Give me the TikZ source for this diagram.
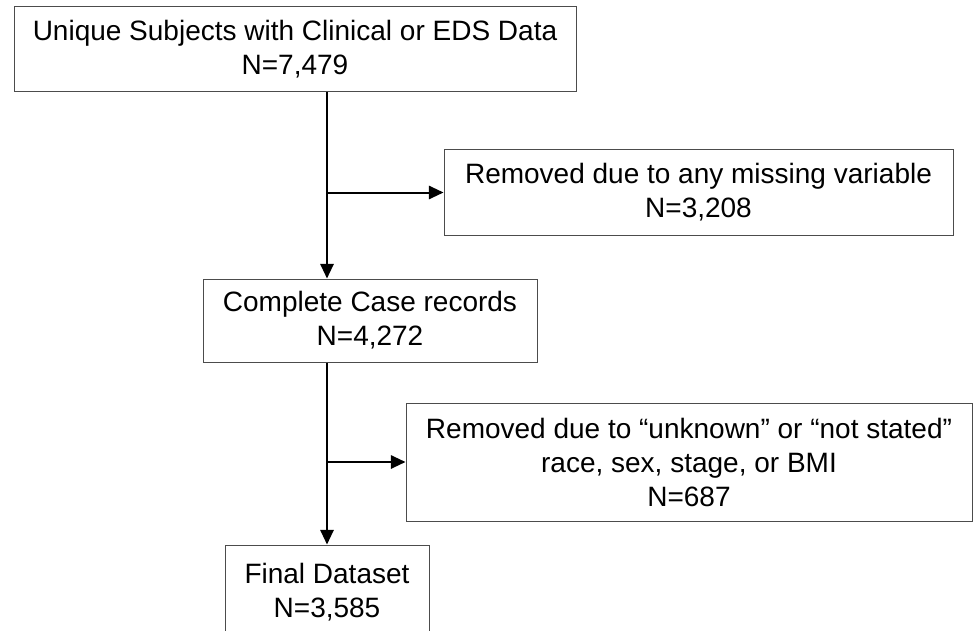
\documentclass[tikz,border=0pt]{standalone}
\usepackage{fontspec}
\setmainfont{Liberation Sans}
\usetikzlibrary{arrows.meta,positioning}

\begin{document}
\begin{tikzpicture}[x=0.75pt,y=-0.75pt,
		box/.style={draw=black!70,line width=0.75pt,align=center,inner sep=0pt,
			font=\fontsize{21pt}{25.5pt}\selectfont},
		flow/.style={line width=1.5pt,-{Triangle[length=11pt,width=10pt]}}]
		\clip (0,0) rectangle (974,631);
		\node[box,minimum width=421.5pt,minimum height=63.75pt] (subjects) at (295,49.5)
			{Unique Subjects with Clinical or EDS Data\\ N=7,479};
		\node[box,minimum width=381.75pt,minimum height=63.75pt] (missing) at (698.5,192.5)
			{Removed due to any missing variable\\ N=3,208};
		\node[box,minimum width=250.5pt,minimum height=62.25pt] (complete) at (370,320.5)
			{Complete Case records\\ N=4,272};
		\node[box,minimum width=424.5pt,minimum height=88.5pt] (unknown) at (689,462)
			{Removed due to “unknown” or “not stated”\\ race, sex, stage, or BMI\\ N=687};
		\node[box,minimum width=153pt,minimum height=70.5pt] (final) at (327,592)
			{Final Dataset\\ N=3,585};
		\coordinate (cut1) at (final.north |- missing.west);
		\coordinate (cut2) at (final.north |- unknown.west);
		\draw[flow] (subjects.south -| final.north) -- (complete.north -| final.north);
		\draw[flow] (cut1) -- (missing.west);
		\draw[flow] (complete.south -| final.north) -- (final.north);
		\draw[flow] (cut2) -- (unknown.west);
	\end{tikzpicture}
\end{document}
